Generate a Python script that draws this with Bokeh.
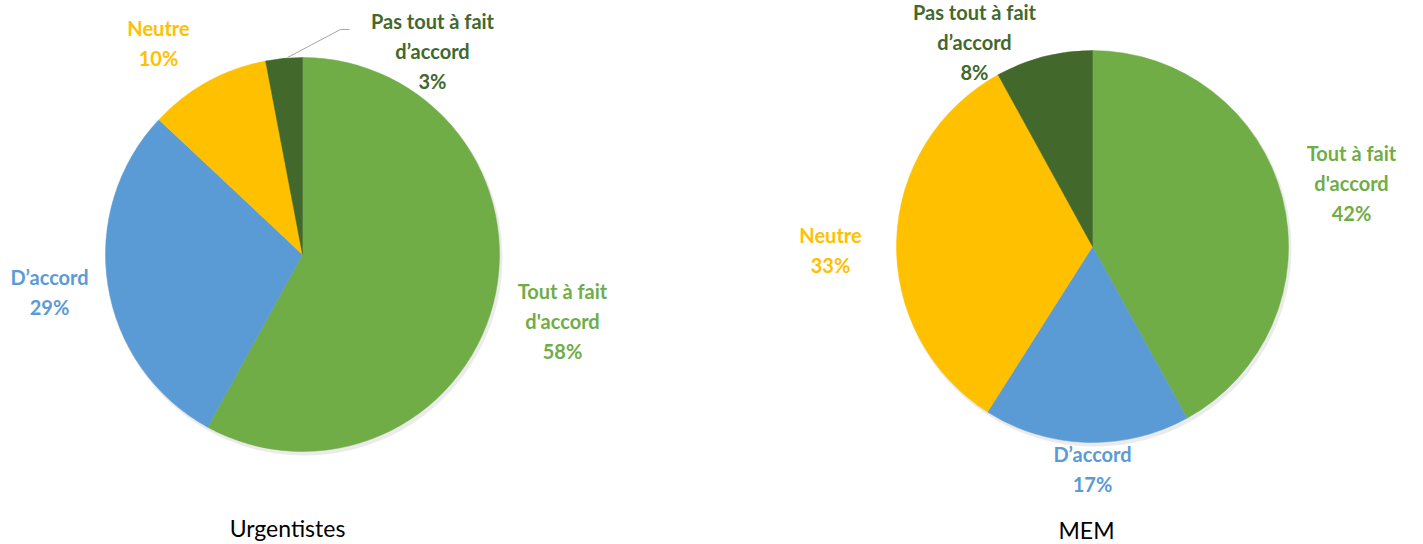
import numpy as np
from bokeh.plotting import figure
from bokeh.models import ColumnDataSource, Range1d
from bokeh.core.properties import value
from bokeh.embed import file_html
from bokeh.resources import INLINE

# ---- data ----
categories = ["Tout à fait\nd'accord", "D\u2019accord", "Neutre", "Pas tout à fait\nd\u2019accord"]
colors = ["#70AD47", "#5B9BD5", "#FFC000", "#43682B"]
urgentistes = [58, 29, 10, 3]
mem = [42, 17, 33, 8]
titles = ["Urgentistes", "MEM"]

# ---- layout (pixels, page coords) ----
W, H = 1423, 544
def px(x): return x
def py(y): return H - y

pies = [
    dict(vals=urgentistes, cx=302, cy=254, r=197,
         labels=[(562, 320), (49, 291), (158, 42), (432, 50)],
         title=(287, 527)),
    dict(vals=mem, cx=1092, cy=246, r=196,
         labels=[(1351, 182), (1092, 468), (830, 249), (974, 41)],
         title=(1086, 529)),
]

p = figure(width=W, height=H, output_backend="svg", toolbar_location=None,
           x_range=Range1d(0, W), y_range=Range1d(0, H), min_border=0)
p.axis.visible = False
p.grid.visible = False
p.outline_line_color = None
p.background_fill_color = "white"

for pie, title in zip(pies, titles):
    vals = np.array(pie["vals"], dtype=float)
    frac = vals / vals.sum()
    cum = np.concatenate([[0], np.cumsum(frac)])
    start = np.pi / 2 - cum[:-1] * 2 * np.pi
    end = np.pi / 2 - cum[1:] * 2 * np.pi
    # soft shadow
    p.circle(x=[px(pie["cx"]) + 2], y=[py(pie["cy"]) - 3], radius=pie["r"] + 1,
             fill_color="#000000", fill_alpha=0.08, line_color=None)
    src = ColumnDataSource(dict(x=[px(pie["cx"])] * 4, y=[py(pie["cy"])] * 4,
                                start=start, end=end, color=colors))
    p.wedge(x="x", y="y", radius=pie["r"], start_angle="start", end_angle="end",
            direction="clock", fill_color="color", line_color="color", line_width=0.5,
            source=src)
    texts = [f"{c}\n{int(v)}%" for c, v in zip(categories, pie["vals"])]
    lsrc = ColumnDataSource(dict(x=[px(l[0]) for l in pie["labels"]],
                                 y=[py(l[1]) for l in pie["labels"]],
                                 text=texts, color=colors))
    p.text(x="x", y="y", text="text", text_color="color", source=lsrc,
           text_font=value("Lato"), text_font_style="bold", text_font_size="20px",
           text_align="center", text_baseline="middle", text_line_height=1.25)
    p.text(x=[px(pie["title"][0])], y=[py(pie["title"][1])], text=[title],
           text_color="#000000", text_font=value("Lato"), text_font_size="23px",
           text_align="center", text_baseline="middle")

# leader line for the small slice of the left pie
p.line(x=[px(287), px(340), px(349)], y=[py(57), py(29), py(29)],
       line_color="#A6A6A6", line_width=1)

html = file_html(p, INLINE)
html = html.replace("<head>", "<head><style>html,body{margin:0;padding:0;}</style>", 1)
open("out.html", "w").write(html)
